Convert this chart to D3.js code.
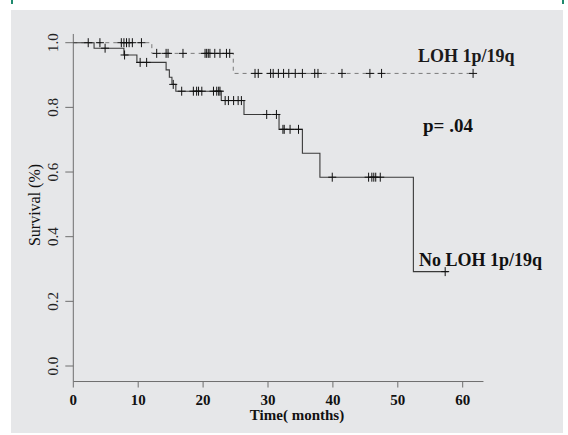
<!DOCTYPE html>
<html>
<head>
<meta charset="utf-8">
<script src="https://cdn.jsdelivr.net/npm/d3@7"></script>
<style>
  html, body { margin: 0; padding: 0; background: #fff; }
  svg { display: block; }
</style>
</head>
<body>
<svg id="chart" width="568" height="435"></svg>
<script>
// Kaplan-Meier steps (time in months, survival proportion)
const lohTimes = [0, 12.1, 24.65];
const lohSurv = [1.0, 0.967, 0.905];
const lohEnd = 61.8;
const lohCensorT = [4.1, 7.4, 7.8, 8.2, 8.6, 9.1, 10.5,
  12.85, 14.3, 14.6, 16.9, 20.3, 20.55, 20.8, 21.05, 21.8, 22.6, 23.6, 24.1,
  28.0, 28.5, 30.4, 30.8, 31.6, 32.4, 33.2, 34.2, 35.3, 37.2, 37.7, 41.4, 45.7, 47.5, 61.6];

const noTimes = [0, 3.2, 7.8, 9.8, 14.3, 14.8, 15.2, 15.8, 22.8, 26.3, 31.7, 35.3, 38.0, 52.4];
const noSurv = [1.0, 0.983, 0.962, 0.939, 0.916, 0.893, 0.871, 0.850, 0.821, 0.778, 0.732, 0.658, 0.584, 0.292];
const noEnd = 57.8;
const noCensorT = [2.3, 4.9, 7.9, 10.3, 11.3, 15.4,
  16.7, 18.5, 19.0, 19.3, 19.8, 21.6, 22.1, 22.4, 22.6,
  23.4, 23.9, 24.7, 25.4, 25.9, 29.8, 31.3,
  32.3, 32.5, 33.4, 34.7, 39.9, 45.5, 46.0, 46.3, 46.6, 47.3, 57.3];

const xTicks = [0, 10, 20, 30, 40, 50, 60];
const yTicks = [0.0, 0.2, 0.4, 0.6, 0.8, 1.0];

const svg = d3.select('#chart');
const serif = '"Liberation Serif", "Times New Roman", serif';

// panel background + little teal marks at the top corners
svg.append('rect').attr('x', 11).attr('y', 10).attr('width', 552).attr('height', 423).attr('fill', '#e6e7e9');
svg.append('rect').attr('x', 11).attr('y', 0).attr('width', 2).attr('height', 4).attr('fill', '#1f8a6e');
svg.append('rect').attr('x', 562).attr('y', 0).attr('width', 2).attr('height', 4).attr('fill', '#1f8a6e');

const x = d3.scaleLinear().domain([0, 60]).range([73.3, 462.7]);
const y = d3.scaleLinear().domain([0, 1]).range([366, 42.7]);

// axes (L-shaped, custom drawn like the original)
const axisColor = '#6e6e6e';
const g = svg.append('g');
g.append('line').attr('x1', x(0)).attr('x2', x(0)).attr('y1', y(1.027)).attr('y2', y(-0.048))
  .attr('stroke', axisColor).attr('stroke-width', 1);
g.append('line').attr('x1', x(0)).attr('x2', x(63.2)).attr('y1', y(-0.048)).attr('y2', y(-0.048))
  .attr('stroke', axisColor).attr('stroke-width', 1);

g.selectAll('line.ytick').data(yTicks).join('line')
  .attr('class', 'ytick')
  .attr('x1', x(0) - 8).attr('x2', x(0))
  .attr('y1', d => y(d)).attr('y2', d => y(d))
  .attr('stroke', axisColor);

g.selectAll('text.ylab').data(yTicks).join('text')
  .attr('class', 'ylab')
  .attr('transform', d => `translate(58,${y(d)}) rotate(-90)`)
  .attr('text-anchor', 'middle')
  .attr('font-family', serif).attr('font-size', 15)
  .attr('fill', '#222')
  .text(d => d.toFixed(1));

g.selectAll('line.xtick').data(xTicks).join('line')
  .attr('class', 'xtick')
  .attr('x1', d => x(d)).attr('x2', d => x(d))
  .attr('y1', y(-0.048)).attr('y2', y(-0.048) + 6)
  .attr('stroke', axisColor);

g.selectAll('text.xlab').data(xTicks).join('text')
  .attr('class', 'xlab')
  .attr('x', d => x(d)).attr('y', 405)
  .attr('text-anchor', 'middle')
  .attr('font-family', serif).attr('font-size', 15).attr('font-weight', 'bold')
  .attr('fill', '#111')
  .text(d => d);

svg.append('text')
  .attr('x', 297).attr('y', 420)
  .attr('text-anchor', 'middle')
  .attr('font-family', serif).attr('font-size', 15).attr('font-weight', 'bold')
  .attr('fill', '#111')
  .text('Time( months)');

svg.append('text')
  .attr('transform', 'translate(40,205) rotate(-90)')
  .attr('text-anchor', 'middle')
  .attr('font-family', serif).attr('font-size', 16)
  .attr('fill', '#111')
  .text('Survival (%)');

// step curves
const step = d3.line().x(d => x(d.t)).y(d => y(d.s)).curve(d3.curveStepAfter);
const toPts = (ts, ss, end) => {
  const pts = ts.map((t, i) => ({ t, s: ss[i] }));
  pts.push({ t: end, s: ss[ss.length - 1] });
  return pts;
};
const survAt = (ts, ss, t) => {
  let s = ss[0];
  ts.forEach((tt, i) => { if (tt <= t) s = ss[i]; });
  return s;
};

svg.append('path')
  .attr('d', step(toPts(lohTimes, lohSurv, lohEnd)))
  .attr('fill', 'none').attr('stroke', '#7a7a7a').attr('stroke-width', 1)
  .attr('stroke-dasharray', '4,4');

svg.append('path')
  .attr('d', step(toPts(noTimes, noSurv, noEnd)))
  .attr('fill', 'none').attr('stroke', '#3a3a3a').attr('stroke-width', 1.1);

// censor marks (+)
const drawCensor = (times, ts, ss, cls) => {
  const grp = svg.append('g').attr('class', cls).attr('stroke', '#111').attr('stroke-width', 1);
  const pts = times.map(t => ({ cx: x(t), cy: y(survAt(ts, ss, t)) }));
  grp.selectAll('line.v').data(pts).join('line').attr('class', 'v')
    .attr('x1', d => d.cx).attr('x2', d => d.cx).attr('y1', d => d.cy - 4.5).attr('y2', d => d.cy + 4.5);
  grp.selectAll('line.h').data(pts).join('line').attr('class', 'h')
    .attr('x1', d => d.cx - 4).attr('x2', d => d.cx + 4).attr('y1', d => d.cy).attr('y2', d => d.cy);
};
drawCensor(lohCensorT, lohTimes, lohSurv, 'cens-loh');
drawCensor(noCensorT, noTimes, noSurv, 'cens-no');

// annotations
svg.append('text').attr('x', 418).attr('y', 62)
  .attr('font-family', serif).attr('font-size', 18).attr('font-weight', 'bold')
  .attr('fill', '#1a1a1a').text('LOH 1p/19q');
svg.append('text').attr('x', 423).attr('y', 132)
  .attr('font-family', serif).attr('font-size', 19).attr('font-weight', 'bold')
  .attr('fill', '#111').text('p= .04');
svg.append('text').attr('x', 419).attr('y', 266)
  .attr('font-family', serif).attr('font-size', 18).attr('font-weight', 'bold')
  .attr('fill', '#111').text('No LOH 1p/19q');
</script>
</body>
</html>
